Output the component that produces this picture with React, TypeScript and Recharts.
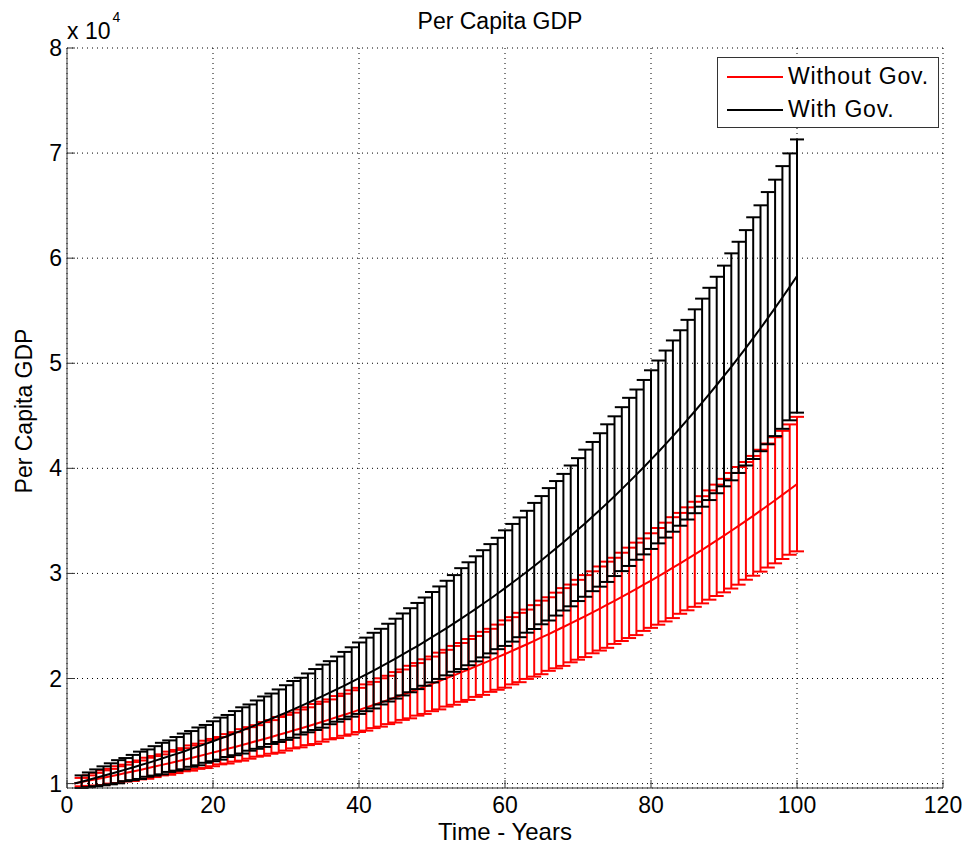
import React from 'react';
import { LineChart, Line, XAxis, YAxis, CartesianGrid, ErrorBar, Legend } from 'recharts';

const FONT = '"Liberation Sans", Arial, Helvetica, sans-serif';
const AXIS_COLOR = '#333';

// values in units of 10^4
const YEARS = [
  1, 2, 3, 4, 5, 6, 7, 8, 9, 10, 11, 12, 13, 14, 15, 16, 17, 18, 19, 20,
  21, 22, 23, 24, 25, 26, 27, 28, 29, 30, 31, 32, 33, 34, 35, 36, 37, 38, 39, 40,
  41, 42, 43, 44, 45, 46, 47, 48, 49, 50, 51, 52, 53, 54, 55, 56, 57, 58, 59, 60,
  61, 62, 63, 64, 65, 66, 67, 68, 69, 70, 71, 72, 73, 74, 75, 76, 77, 78, 79, 80,
  81, 82, 83, 84, 85, 86, 87, 88, 89, 90, 91, 92, 93, 94, 95, 96, 97, 98, 99, 100,
];

const WITHOUT_GOV = [
  1.000, 1.014, 1.028, 1.042, 1.056, 1.070, 1.085, 1.100, 1.115, 1.130,
  1.146, 1.162, 1.178, 1.194, 1.210, 1.227, 1.243, 1.260, 1.278, 1.295,
  1.313, 1.331, 1.349, 1.368, 1.387, 1.406, 1.425, 1.444, 1.464, 1.484,
  1.505, 1.525, 1.546, 1.567, 1.589, 1.611, 1.633, 1.655, 1.678, 1.701,
  1.724, 1.748, 1.772, 1.796, 1.821, 1.846, 1.871, 1.897, 1.923, 1.949,
  1.976, 2.003, 2.030, 2.058, 2.086, 2.115, 2.144, 2.173, 2.203, 2.233,
  2.264, 2.295, 2.326, 2.358, 2.391, 2.423, 2.457, 2.490, 2.524, 2.559,
  2.594, 2.630, 2.666, 2.702, 2.739, 2.777, 2.815, 2.853, 2.893, 2.932,
  2.972, 3.013, 3.055, 3.096, 3.139, 3.182, 3.225, 3.270, 3.315, 3.360,
  3.406, 3.453, 3.500, 3.548, 3.597, 3.646, 3.696, 3.747, 3.798, 3.850,
];

const WITHOUT_GOV_ERR = [
  0, 0.04, 0.05, 0.06, 0.07, 0.07, 0.08, 0.08, 0.09, 0.09,
  0.10, 0.10, 0.10, 0.11, 0.11, 0.11, 0.12, 0.12, 0.13, 0.13,
  0.13, 0.14, 0.14, 0.15, 0.15, 0.15, 0.16, 0.16, 0.17, 0.17,
  0.17, 0.18, 0.18, 0.19, 0.19, 0.19, 0.20, 0.20, 0.21, 0.21,
  0.22, 0.22, 0.23, 0.23, 0.24, 0.24, 0.25, 0.25, 0.26, 0.26,
  0.27, 0.27, 0.28, 0.28, 0.29, 0.29, 0.30, 0.30, 0.31, 0.32,
  0.32, 0.33, 0.33, 0.34, 0.35, 0.35, 0.36, 0.37, 0.37, 0.38,
  0.39, 0.39, 0.40, 0.41, 0.41, 0.42, 0.43, 0.44, 0.44, 0.45,
  0.46, 0.47, 0.48, 0.48, 0.49, 0.50, 0.51, 0.52, 0.53, 0.54,
  0.55, 0.56, 0.56, 0.57, 0.58, 0.59, 0.60, 0.61, 0.62, 0.64,
];

const WITH_GOV = [
  1.000, 1.018, 1.036, 1.055, 1.074, 1.093, 1.113, 1.133, 1.153, 1.174,
  1.195, 1.216, 1.238, 1.261, 1.283, 1.306, 1.330, 1.354, 1.378, 1.403,
  1.428, 1.453, 1.480, 1.506, 1.533, 1.561, 1.589, 1.617, 1.646, 1.676,
  1.706, 1.737, 1.768, 1.800, 1.832, 1.865, 1.899, 1.933, 1.967, 2.003,
  2.039, 2.075, 2.113, 2.151, 2.189, 2.229, 2.269, 2.309, 2.351, 2.393,
  2.436, 2.480, 2.524, 2.570, 2.616, 2.663, 2.711, 2.759, 2.809, 2.860,
  2.911, 2.963, 3.016, 3.071, 3.126, 3.182, 3.239, 3.297, 3.357, 3.417,
  3.478, 3.541, 3.604, 3.669, 3.735, 3.802, 3.871, 3.940, 4.011, 4.083,
  4.156, 4.231, 4.307, 4.384, 4.463, 4.543, 4.625, 4.708, 4.793, 4.879,
  4.966, 5.056, 5.147, 5.239, 5.333, 5.429, 5.527, 5.626, 5.727, 5.830,
];

const WITH_GOV_ERR = [
  0, 0.06, 0.07, 0.08, 0.09, 0.10, 0.11, 0.11, 0.12, 0.13,
  0.13, 0.14, 0.15, 0.15, 0.16, 0.17, 0.17, 0.18, 0.18, 0.19,
  0.20, 0.20, 0.21, 0.22, 0.22, 0.23, 0.24, 0.24, 0.25, 0.26,
  0.27, 0.27, 0.28, 0.29, 0.30, 0.30, 0.31, 0.32, 0.33, 0.34,
  0.35, 0.36, 0.36, 0.37, 0.38, 0.39, 0.40, 0.41, 0.42, 0.43,
  0.44, 0.45, 0.46, 0.48, 0.49, 0.50, 0.51, 0.52, 0.53, 0.55,
  0.56, 0.57, 0.58, 0.60, 0.61, 0.63, 0.64, 0.65, 0.67, 0.68,
  0.70, 0.71, 0.73, 0.75, 0.76, 0.78, 0.80, 0.81, 0.83, 0.85,
  0.87, 0.89, 0.91, 0.93, 0.95, 0.97, 0.99, 1.01, 1.03, 1.05,
  1.08, 1.10, 1.12, 1.15, 1.17, 1.20, 1.22, 1.25, 1.27, 1.30,
];

const SERIES_NAMES = ['Without Gov.', 'With Gov.'];
const X_TICKS = [0, 20, 40, 60, 80, 100, 120];
const Y_TICKS = [1, 2, 3, 4, 5, 6, 7, 8];

const data = YEARS.map((year, i) => ({
  year,
  without: WITHOUT_GOV[i],
  withoutErr: WITHOUT_GOV_ERR[i],
  withGov: WITH_GOV[i],
  withGovErr: WITH_GOV_ERR[i],
}));

const BottomTick = ({ x, y, payload }: any) => (
  <g>
    <line x1={x} y1={y} x2={x} y2={y - 8} stroke={AXIS_COLOR} />
    <text x={x} y={y + 25} textAnchor="middle" fontSize={23} fontFamily={FONT} fill="#000">
      {payload.value}
    </text>
  </g>
);

const LeftTick = ({ x, y, payload }: any) => (
  <g>
    <line x1={x} y1={y} x2={x + 8} y2={y} stroke={AXIS_COLOR} />
    <text x={x - 5} y={y + 8} textAnchor="end" fontSize={23} fontFamily={FONT} fill="#000">
      {payload.value}
    </text>
  </g>
);

const TopTick = ({ x, y }: any) => <line x1={x} y1={y} x2={x} y2={y + 8} stroke={AXIS_COLOR} />;
const RightTick = ({ x, y }: any) => <line x1={x} y1={y} x2={x - 8} y2={y} stroke={AXIS_COLOR} />;

const LegendBox = ({ payload }: any) => {
  const items = [...(payload || [])].sort(
    (a: any, b: any) => SERIES_NAMES.indexOf(a.value) - SERIES_NAMES.indexOf(b.value)
  );
  return (
    <div
      style={{
        width: 222,
        height: 71,
        boxSizing: 'border-box',
        border: `1px solid ${AXIS_COLOR}`,
        background: '#fff',
        fontFamily: FONT,
        fontSize: 23,
        letterSpacing: 0.8,
        paddingTop: 2,
      }}
    >
      {items.map((entry: any) => (
        <div key={entry.value} style={{ display: 'flex', alignItems: 'center', height: 33 }}>
          <span style={{ display: 'inline-block', width: 56, height: 2, marginLeft: 9, background: entry.color }} />
          <span style={{ marginLeft: 5, color: '#000' }}>{entry.value}</span>
        </div>
      ))}
    </div>
  );
};

export default function App() {
  return (
    <div style={{ position: 'relative', width: 954, height: 835, background: '#fff' }}>
      <LineChart width={954} height={835} data={data} margin={{ top: 40, right: 19, bottom: 0, left: 0 }}>
        <CartesianGrid stroke="#000" strokeDasharray="1 4" />
        <XAxis
          dataKey="year"
          type="number"
          domain={[0, 120]}
          ticks={X_TICKS}
          height={55}
          tickSize={0}
          tickMargin={0}
          tickLine={false}
          tick={BottomTick}
          stroke={AXIS_COLOR}
        />
        <XAxis
          xAxisId="top"
          orientation="top"
          type="number"
          domain={[0, 120]}
          ticks={X_TICKS}
          height={0}
          tickSize={0}
          tickMargin={0}
          tickLine={false}
          tick={TopTick}
          stroke={AXIS_COLOR}
        />
        <YAxis
          type="number"
          domain={[1, 8]}
          ticks={Y_TICKS}
          width={59}
          tickSize={0}
          tickMargin={0}
          tickLine={false}
          tick={LeftTick}
          stroke={AXIS_COLOR}
        />
        <YAxis
          yAxisId="right"
          orientation="right"
          type="number"
          domain={[1, 8]}
          ticks={Y_TICKS}
          width={0}
          tickSize={0}
          tickMargin={0}
          tickLine={false}
          tick={RightTick}
          stroke={AXIS_COLOR}
        />
        <Line
          name={SERIES_NAMES[0]}
          dataKey="without"
          type="linear"
          stroke="#ff0000"
          strokeWidth={2}
          dot={false}
          isAnimationActive={false}
        >
          <ErrorBar dataKey="withoutErr" direction="y" width={7} stroke="#ff0000" strokeWidth={2} isAnimationActive={false} />
        </Line>
        <Line
          name={SERIES_NAMES[1]}
          dataKey="withGov"
          type="linear"
          stroke="#000"
          strokeWidth={2}
          dot={false}
          isAnimationActive={false}
        >
          <ErrorBar dataKey="withGovErr" direction="y" width={7} stroke="#000" strokeWidth={2} isAnimationActive={false} />
        </Line>
        <Legend
          layout="vertical"
          align="center"
          verticalAlign="middle"
          content={LegendBox}
          wrapperStyle={{ top: 49, left: 709, width: 222, height: 71 }}
        />
      </LineChart>
      <svg
        width={954}
        height={840}
        style={{ position: 'absolute', top: 0, left: 0, pointerEvents: 'none' }}
        fontFamily={FONT}
      >
        <text x={492} y={21} textAnchor="middle" fontSize={23} fill="#000">
          Per Capita GDP
        </text>
        <text x={497} y={832} textAnchor="middle" fontSize={24} fill="#000">
          Time - Years
        </text>
        <text x={24} y={403} textAnchor="middle" fontSize={23} fill="#000" transform="rotate(-90 24 403)">
          Per Capita GDP
        </text>
        <text x={59} y={31} fontSize={23} fill="#000">
          x 10
          <tspan dx={2} dy={-17} fontSize={14}>
            4
          </tspan>
        </text>
      </svg>
    </div>
  );
}
